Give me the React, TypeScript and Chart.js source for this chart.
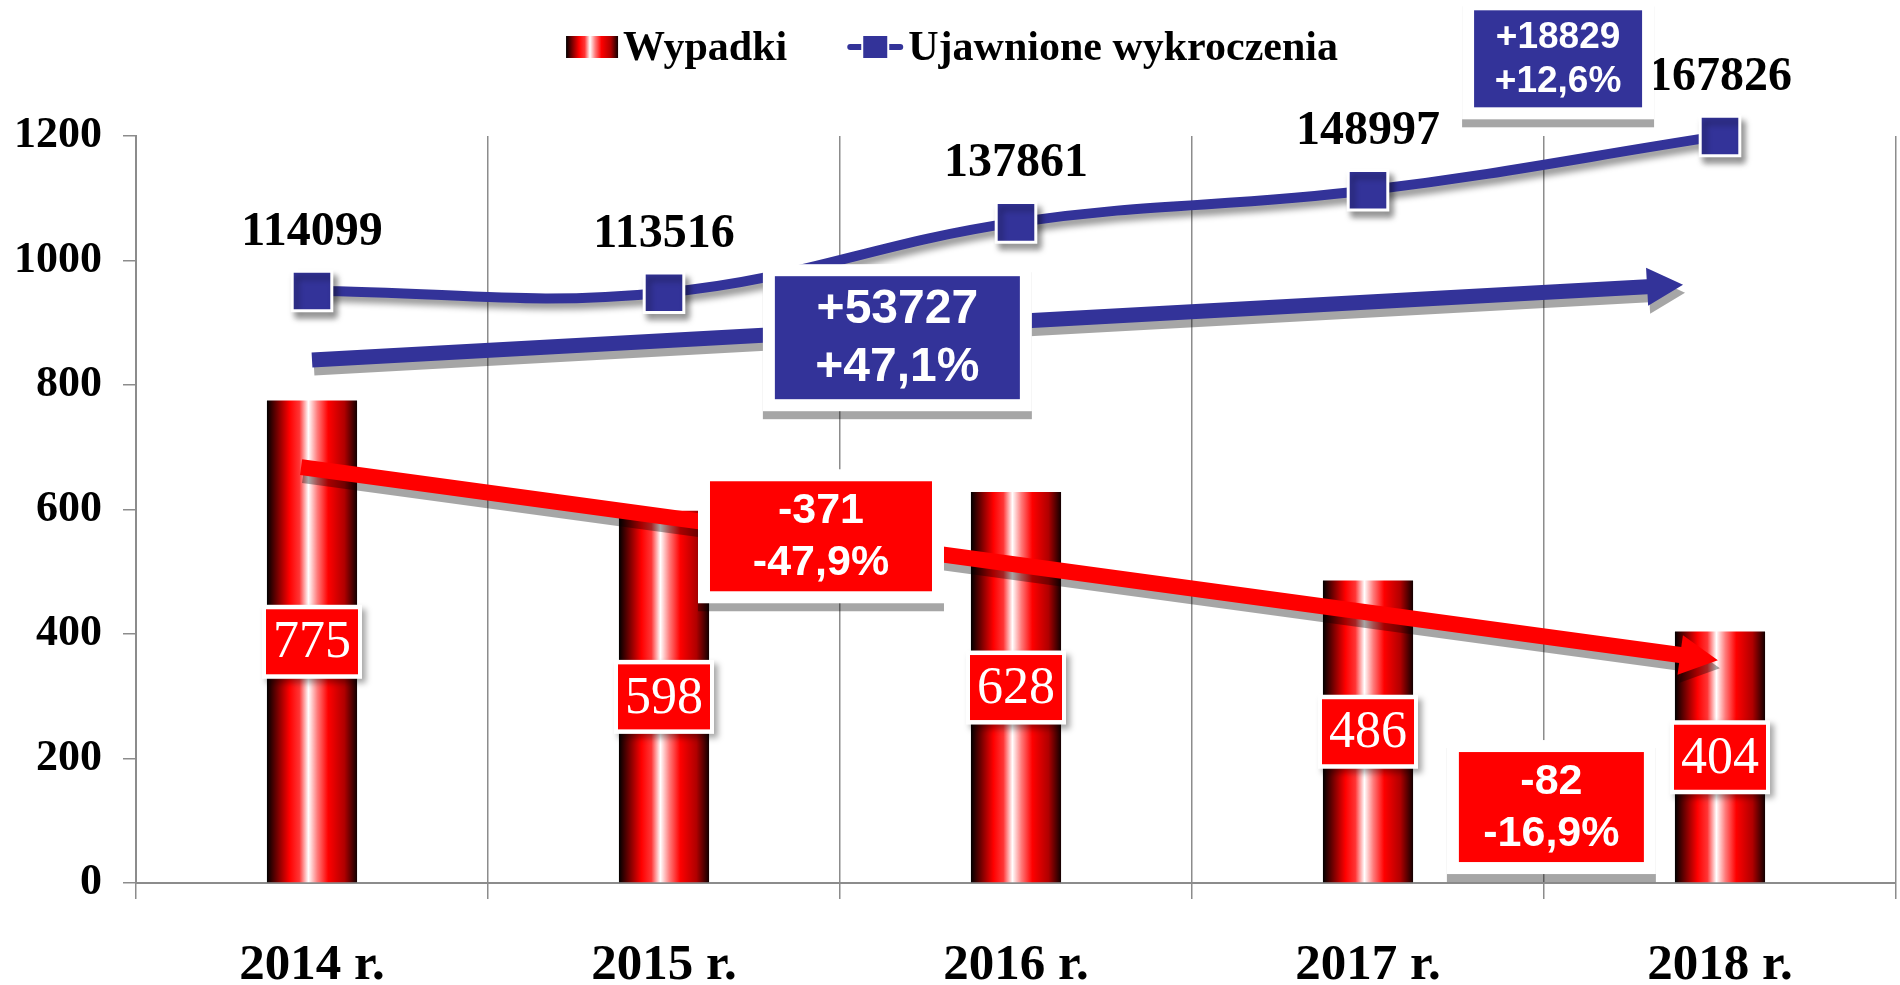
import { useEffect, useRef } from 'react';
import { Chart, registerables } from 'chart.js';

Chart.register(...registerables);

// ---------- data ----------
const categories = ['2014 r.', '2015 r.', '2016 r.', '2017 r.', '2018 r.'];
const seriesNames = ['Wypadki', 'Ujawnione wykroczenia'];
const accidents = [775, 598, 628, 486, 404];
const offences = [114099, 113516, 137861, 148997, 167826];
const yTickValues = [0, 200, 400, 600, 800, 1000, 1200];

// change annotations (text lines)
const changeTexts = [
  ['+53727', '+47,1%'],
  ['+18829', '+12,6%'],
  ['-371', '-47,9%'],
  ['-82', '-16,9%'],
];

// ---------- styles / annotation placement ----------
const SERIF = '"Liberation Serif", "Times New Roman", serif';
const SANS = '"Liberation Sans", Arial, sans-serif';
const BLUE = '#333399';
const RED = '#ff0000';
const GRID = '#8c8c8c';
const BAR_FRACTION = 0.256;

// anchors in chart units: category index (fractional) and left-axis value
const boxStyles = [
  { idx: 1.663, val: 876, w: 245, h: 123, fill: BLUE, font: 48 },
  { idx: 3.54, val: 1324, w: 168, h: 97, fill: BLUE, font: 37 },
  { idx: 1.446, val: 557, w: 222, h: 110, fill: RED, font: 43 },
  { idx: 3.521, val: 122, w: 185, h: 110, fill: RED, font: 43 },
];
const arrowStyles = [
  { from: [0, 840], to: [3.895, 961], color: BLUE, shaft: 15, headLen: 36, headW: 38 },
  { from: [-0.031, 668], to: [3.994, 358], color: RED, shaft: 16, headLen: 38, headW: 40 },
];

function barGradient(ctx: CanvasRenderingContext2D, x0: number, x1: number) {
  const g = ctx.createLinearGradient(x0, 0, x1, 0);
  g.addColorStop(0, '#000000');
  g.addColorStop(0.12, '#7a0000');
  g.addColorStop(0.25, '#ff0000');
  g.addColorStop(0.36, '#ff3535');
  g.addColorStop(0.46, '#ffffff');
  g.addColorStop(0.56, '#ff7a7a');
  g.addColorStop(0.68, '#ff0000');
  g.addColorStop(0.86, '#b00000');
  g.addColorStop(1, '#120000');
  return g;
}

function drawArrow(ctx: CanvasRenderingContext2D, x0: number, y0: number, x1: number, y1: number, shaft: number, headLen: number, headW: number) {
  const ang = Math.atan2(y1 - y0, x1 - x0);
  const len = Math.hypot(x1 - x0, y1 - y0);
  ctx.save();
  ctx.translate(x0, y0);
  ctx.rotate(ang);
  ctx.beginPath();
  ctx.moveTo(0, -shaft / 2);
  ctx.lineTo(len - headLen, -shaft / 2);
  ctx.lineTo(len - headLen, -headW / 2);
  ctx.lineTo(len, 0);
  ctx.lineTo(len - headLen, headW / 2);
  ctx.lineTo(len - headLen, shaft / 2);
  ctx.lineTo(0, shaft / 2);
  ctx.closePath();
  ctx.fill();
  ctx.restore();
}

const decorPlugin = {
  id: 'decor',
  beforeDatasetDraw(chart: any, args: any) {
    if (args.index === 1) {
      const ctx = chart.ctx;
      ctx.save();
      ctx.shadowColor = 'rgba(0,0,0,0.4)';
      ctx.shadowBlur = 6;
      ctx.shadowOffsetX = 4;
      ctx.shadowOffsetY = 6;
    }
  },
  afterDatasetDraw(chart: any, args: any) {
    if (args.index === 1) chart.ctx.restore();
  },
  afterDatasetsDraw(chart: any) {
    const ctx: CanvasRenderingContext2D = chart.ctx;
    const xs = chart.scales.x;
    const ys = chart.scales.y;

    // trend arrows
    arrowStyles.forEach((a) => {
      const x0 = xs.getPixelForValue(a.from[0]);
      const y0 = ys.getPixelForValue(a.from[1]);
      const x1 = xs.getPixelForValue(a.to[0]);
      const y1 = ys.getPixelForValue(a.to[1]);
      ctx.save();
      ctx.fillStyle = 'rgba(0,0,0,0.35)';
      drawArrow(ctx, x0 + 2, y0 + 8, x1 + 2, y1 + 8, a.shaft, a.headLen, a.headW);
      ctx.fillStyle = a.color;
      drawArrow(ctx, x0, y0, x1, y1, a.shaft, a.headLen, a.headW);
      ctx.restore();
    });

    // bar value labels
    const barMeta = chart.getDatasetMeta(0);
    barMeta.data.forEach((bar: any, i: number) => {
      const cx = bar.x;
      const cy = ys.getPixelForValue(accidents[i] / 2);
      ctx.save();
      ctx.shadowColor = 'rgba(0,0,0,0.35)';
      ctx.shadowBlur = 6;
      ctx.shadowOffsetX = 4;
      ctx.shadowOffsetY = 4;
      ctx.fillStyle = '#ffffff';
      ctx.fillRect(cx - 50, cy - 37, 100, 74);
      ctx.restore();
      ctx.save();
      ctx.fillStyle = RED;
      ctx.fillRect(cx - 46, cy - 32.5, 92, 65);
      ctx.fillStyle = '#ffffff';
      ctx.font = `52px ${SERIF}`;
      ctx.textAlign = 'center';
      ctx.textBaseline = 'middle';
      ctx.fillText(String(accidents[i]), cx, cy + 2);
      ctx.restore();
    });

    // line point labels
    const lineMeta = chart.getDatasetMeta(1);
    lineMeta.data.forEach((pt: any, i: number) => {
      ctx.save();
      ctx.fillStyle = '#000000';
      ctx.font = `bold 48px ${SERIF}`;
      ctx.textAlign = 'center';
      ctx.textBaseline = 'alphabetic';
      ctx.fillText(String(offences[i]), pt.x, pt.y - 46);
      ctx.restore();
    });

    // change boxes
    boxStyles.forEach((b, i) => {
      const cx = xs.getPixelForValue(b.idx);
      const cy = ys.getPixelForValue(b.val);
      const pad = 12;
      ctx.save();
      ctx.shadowColor = 'rgba(0,0,0,0.35)';
      ctx.shadowBlur = 0;
      ctx.shadowOffsetX = 0;
      ctx.shadowOffsetY = 8;
      ctx.fillStyle = '#ffffff';
      ctx.fillRect(cx - b.w / 2 - pad, cy - b.h / 2 - pad, b.w + pad * 2, b.h + pad * 2);
      ctx.restore();
      ctx.save();
      ctx.fillStyle = b.fill;
      ctx.fillRect(cx - b.w / 2, cy - b.h / 2, b.w, b.h);
      ctx.fillStyle = '#ffffff';
      ctx.font = `bold ${b.font}px ${SANS}`;
      ctx.textAlign = 'center';
      ctx.textBaseline = 'middle';
      const gap = b.font * 1.2;
      ctx.fillText(changeTexts[i][0], cx, cy - gap / 2 + 1);
      ctx.fillText(changeTexts[i][1], cx, cy + gap / 2 + 1);
      ctx.restore();
    });
  },
  afterDraw(chart: any) {
    const ctx: CanvasRenderingContext2D = chart.ctx;
    ctx.save();
    ctx.font = `bold 42px ${SERIF}`;
    const w1 = ctx.measureText(seriesNames[0]).width;
    const w2 = ctx.measureText(seriesNames[1]).width;
    const icon1 = 52, icon2 = 56, gapIcon = 5, gapItems = 60;
    const total = icon1 + gapIcon + w1 + gapItems + icon2 + gapIcon + w2;
    let x = chart.width / 2 + 2 - total / 2;
    const cy = 47;
    // bar icon
    ctx.fillStyle = barGradient(ctx, x, x + icon1);
    ctx.fillRect(x, cy - 11, icon1, 22);
    x += icon1 + gapIcon;
    ctx.fillStyle = '#000000';
    ctx.textAlign = 'left';
    ctx.textBaseline = 'alphabetic';
    ctx.fillText(seriesNames[0], x, 60);
    x += w1 + gapItems;
    // line icon
    ctx.strokeStyle = BLUE;
    ctx.lineWidth = 6;
    ctx.lineCap = 'round';
    ctx.beginPath();
    ctx.moveTo(x + 3, cy);
    ctx.lineTo(x + icon2 - 3, cy);
    ctx.stroke();
    ctx.fillStyle = '#ffffff';
    ctx.fillRect(x + icon2 / 2 - 14, cy - 13, 28, 26);
    ctx.fillStyle = BLUE;
    ctx.fillRect(x + icon2 / 2 - 12, cy - 11, 24, 22);
    x += icon2 + gapIcon;
    ctx.fillStyle = '#000000';
    ctx.fillText(seriesNames[1], x, 60);
    ctx.restore();
  },
};

export default function App() {
  const ref = useRef<HTMLCanvasElement | null>(null);

  useEffect(() => {
    document.body.style.margin = '0';
    document.body.style.overflow = 'hidden';
    const canvas = ref.current;
    if (!canvas) return;
    const chart = new Chart(canvas, {
      type: 'bar',
      data: {
        labels: categories,
        datasets: [
          {
            type: 'bar',
            label: seriesNames[0],
            data: accidents,
            yAxisID: 'y',
            barPercentage: BAR_FRACTION,
            categoryPercentage: 1,
            backgroundColor: (c: any) => {
              const ch = c.chart;
              const xs = ch.scales && ch.scales.x;
              if (!xs || !ch.chartArea || c.dataIndex === undefined) return RED;
              const cx = xs.getPixelForValue(c.dataIndex);
              const half = ((xs.width / categories.length) * BAR_FRACTION) / 2;
              return barGradient(ch.ctx, cx - half, cx + half);
            },
            borderWidth: 0,
          } as any,
          {
            type: 'line',
            label: seriesNames[1],
            data: offences,
            yAxisID: 'y1',
            borderColor: BLUE,
            borderWidth: 10,
            tension: 0.4,
            pointStyle: 'rect',
            pointRadius: 28,
            pointHoverRadius: 28,
            pointBackgroundColor: BLUE,
            pointBorderColor: '#ffffff',
            pointBorderWidth: 3,
            clip: false,
          } as any,
        ],
      },
      options: {
        animation: false,
        responsive: false,
        devicePixelRatio: 1,
        events: [],
        layout: { autoPadding: false, padding: { top: 136, right: 4, left: 0, bottom: 0 } },
        plugins: {
          legend: { display: false },
          tooltip: { enabled: false },
        },
        scales: {
          x: {
            type: 'category',
            offset: true,
            grid: { offset: true, color: GRID, lineWidth: 1.5, tickLength: 16, drawOnChartArea: true },
            border: { color: GRID, width: 2 },
            ticks: {
              color: '#000000',
              font: { family: SERIF, size: 51, weight: 'bold' },
              padding: 36,
              maxRotation: 0,
            },
            afterFit: (s: any) => { s.height = 102; },
          },
          y: {
            type: 'linear',
            position: 'left',
            min: 0,
            max: 1200,
            afterBuildTicks: (s: any) => { s.ticks = yTickValues.map((v) => ({ value: v })); },
            grid: { drawOnChartArea: false, color: GRID, lineWidth: 1.5, tickLength: 13 },
            border: { color: GRID, width: 2 },
            ticks: {
              color: '#000000',
              font: { family: SERIF, size: 44, weight: 'bold' },
              padding: 21,
              callback: (v: any) => String(v),
            },
            afterFit: (s: any) => { s.width = 136; },
          },
          y1: {
            type: 'linear',
            position: 'right',
            display: false,
            min: -91000,
            max: 167800,
          },
        },
      } as any,
      plugins: [decorPlugin as any],
    });
    return () => chart.destroy();
  }, []);

  return <canvas ref={ref} width={1900} height={985} style={{ display: 'block' }} />;
}
